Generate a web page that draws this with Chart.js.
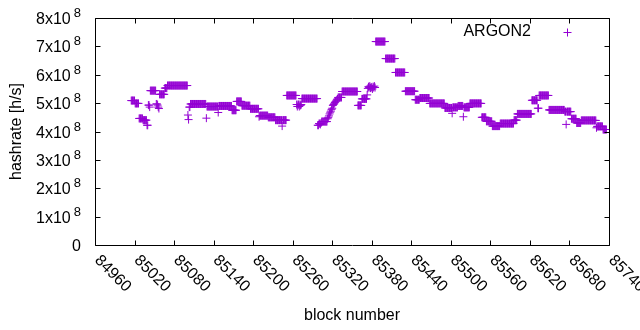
<!DOCTYPE html>
<html>
<head>
<meta charset="utf-8">
<script src="https://cdn.jsdelivr.net/npm/chart.js@4/dist/chart.umd.min.js"></script>
<style>
html,body{margin:0;padding:0;background:#fff;}
canvas{display:block;}
</style>
</head>
<body>
<canvas id="c" width="640" height="330"></canvas>
<script>
// ---- data ----
const seriesLabel = 'ARGON2';
const firstBlock = 85015; // block numbers are consecutive from here
// hashrate per block, in units of 1e6 h/s
const hashrateM = [
509,509,509,509,509,509,
499,499,499,499,499,499,
446,446,446,446,446,446,
440,440,440,440,440,440,
422,422,
493,493,486,
544,544,544,544,544,544,544,544,544,
497,497,493,486,481,
531,531,531,531,531,531,531,531,
553,553,553,553,
562,562,562,562,562,562,562,562,562,562,562,562,562,562,562,562,562,562,562,562,562,562,562,562,562,562,562,562,562,562,562,
458,442,
486,486,
497,497,497,497,497,497,497,497,497,497,497,497,497,497,497,497,497,497,497,497,497,497,497,497,
447,
488,488,488,488,488,488,488,488,488,488,488,488,488,488,488,488,488,
467,
490,490,490,490,490,490,490,490,490,490,490,490,490,490,490,490,490,490,490,490,
475,475,475,475,475,475,475,
506,506,506,506,506,506,506,506,
491,491,491,491,491,491,491,491,491,491,491,491,491,
480,480,480,480,480,480,480,480,480,480,480,480,480,
452,
456,456,456,456,456,456,456,456,456,456,456,456,456,
450,450,450,450,450,450,450,450,450,450,450,
440,440,440,440,440,440,440,440,440,440,419,440,440,440,440,440,440,
527,527,527,527,527,527,527,527,527,527,527,527,527,527,527,
495,488,495,495,488,495,492,495,
516,516,516,516,516,516,516,516,516,516,516,516,516,516,516,516,516,516,516,516,516,516,516,516,
422,422,428,428,425,430,
435,435,435,435,435,435,435,435,435,
445,450,455,462,468,472,478,482,
492,495,498,502,505,508,512,515,
520,520,520,520,520,520,
541,541,541,541,541,541,541,541,541,541,541,541,541,541,541,541,541,541,541,541,541,541,541,541,
492,492,492,492,492,492,
515,515,515,515,515,515,515,515,
529,
552,558,555,560,553,557,555,550,558,555,560,555,
717,717,717,717,717,717,717,717,717,717,717,717,717,717,717,
657,657,657,657,657,657,657,657,657,657,657,657,657,657,657,
608,608,608,608,608,608,608,608,608,608,608,608,608,608,608,
542,542,542,542,542,542,542,542,542,542,542,542,542,542,542,
512,512,512,512,512,512,512,
518,518,518,518,518,518,518,518,518,518,518,518,518,518,518,
499,499,499,499,499,499,499,499,499,499,499,499,499,499,499,499,499,499,499,499,499,499,499,
483,483,483,483,483,483,483,483,483,483,483,
464,
485,485,485,485,485,485,485,485,
490,490,490,490,490,490,490,490,
452,
485,485,485,485,485,485,485,485,485,
499,499,499,499,499,499,499,499,499,499,499,499,499,499,499,499,499,499,
450,450,450,450,450,450,450,
436,436,436,436,436,436,436,436,436,
419,419,419,419,419,419,419,419,419,419,419,419,
428,428,428,428,428,428,428,428,428,428,428,428,428,428,428,428,428,428,428,428,428,
440,440,440,440,440,
462,462,462,462,462,462,462,462,462,462,462,462,462,462,462,462,462,462,462,462,462,462,
510,510,510,510,510,510,510,510,510,
482,482,
527,527,527,527,527,527,527,527,527,527,527,527,527,527,527,
476,476,476,476,476,476,476,476,476,476,476,476,476,476,476,476,476,476,476,476,476,476,476,476,
470,470,
425,
470,470,470,470,470,470,470,
445,445,445,445,445,445,445,445,
430,430,430,430,430,430,430,
439,439,439,439,439,439,439,439,439,439,439,439,439,439,439,439,439,439,439,439,439,439,439,
413,
418,418,418,418,418,418,418,418,418,
407,407,407,407,407,407
];
const xTickLabels = ['84960','85020','85080','85140','85200','85260','85320','85380','85440','85500','85560','85620','85680','85740'];
const yTickBase = ['0','1x10','2x10','3x10','4x10','5x10','6x10','7x10','8x10'];
const yTickExp  = ['', '8','8','8','8','8','8','8','8'];
const yTickValues = [0,1e8,2e8,3e8,4e8,5e8,6e8,7e8,8e8];

const points = hashrateM.map((v, i) => ({x: firstBlock + i, y: v * 1e6}));

const FONT = "'Liberation Sans', Arial, Helvetica, sans-serif";
const PURPLE = '#9400D3';

const framePlugin = {
  id: 'gnuplotFrame',
  afterDraw(chart) {
    const ctx = chart.ctx;
    const xs = chart.scales.x, ys = chart.scales.y;
    const a = chart.chartArea;
    const L = Math.round(a.left) + 0.5, R = Math.round(a.right) + 0.5;
    const T = Math.round(a.top) + 0.5, B = Math.round(a.bottom) + 0.5;
    ctx.save();
    ctx.strokeStyle = '#000';
    ctx.lineWidth = 1;
    ctx.beginPath();
    ctx.rect(L, T, R - L, B - T);
    const tl = 5;
    xTickLabels.forEach(lbl => {
      const px = Math.round(xs.getPixelForValue(Number(lbl))) + 0.5;
      ctx.moveTo(px, B); ctx.lineTo(px, B - tl);
      ctx.moveTo(px, T); ctx.lineTo(px, T + tl);
    });
    yTickValues.forEach(v => {
      const py = Math.round(ys.getPixelForValue(v)) + 0.5;
      ctx.moveTo(L, py); ctx.lineTo(L + tl, py);
      ctx.moveTo(R, py); ctx.lineTo(R - tl, py);
    });
    ctx.stroke();

    // y tick labels with superscript exponent
    ctx.fillStyle = '#000';
    const rightEdge = 81;
    yTickValues.forEach((v, i) => {
      const py = ys.getPixelForValue(v);
      ctx.font = '13px ' + FONT;
      const ew = yTickExp[i] ? ctx.measureText(yTickExp[i]).width : 0;
      if (yTickExp[i]) {
        ctx.textAlign = 'right';
        ctx.textBaseline = 'alphabetic';
        ctx.fillText(yTickExp[i], rightEdge, py - 1);
      }
      ctx.font = '16px ' + FONT;
      ctx.textAlign = 'right';
      ctx.textBaseline = 'alphabetic';
      ctx.fillText(yTickBase[i], rightEdge - (ew ? ew + 3 : 0), py + 6);
    });

    // x tick labels rotated -45 (gnuplot style)
    ctx.font = '16px ' + FONT;
    xTickLabels.forEach(lbl => {
      const px = xs.getPixelForValue(Number(lbl));
      ctx.save();
      ctx.translate(px + 2, a.bottom + 13);
      ctx.rotate(Math.PI / 4);
      ctx.textAlign = 'left';
      ctx.textBaseline = 'middle';
      ctx.fillText(lbl, 0, 0);
      ctx.restore();
    });

    // key
    ctx.font = '16px ' + FONT;
    ctx.textAlign = 'right';
    ctx.textBaseline = 'middle';
    ctx.fillText(chart.data.datasets[0].label, 531, 32);
    ctx.strokeStyle = PURPLE;
    ctx.beginPath();
    ctx.moveTo(563.5, 32.5); ctx.lineTo(571.5, 32.5);
    ctx.moveTo(567.5, 28.5); ctx.lineTo(567.5, 36.5);
    ctx.stroke();
    ctx.restore();
  }
};

new Chart(document.getElementById('c'), {
  type: 'scatter',
  data: {
    datasets: [{
      label: seriesLabel,
      data: points,
      pointStyle: 'cross',
      pointRadius: 4,
      pointHoverRadius: 4,
      borderColor: PURPLE,
      backgroundColor: PURPLE,
      borderWidth: 1,
      showLine: false
    }]
  },
  options: {
    responsive: false,
    animation: false,
    devicePixelRatio: 1,
    layout: { padding: { top: 18, right: 31, bottom: 0, left: 0 } },
    plugins: { legend: { display: false }, tooltip: { enabled: false } },
    events: [],
    scales: {
      x: {
        type: 'linear',
        min: 84960, max: 85740,
        ticks: { stepSize: 60, display: false },
        grid: { display: false },
        border: { display: false },
        title: { display: true, text: 'block number', color: '#000',
                 font: { family: FONT, size: 16 }, padding: { top: 0, bottom: 5 } },
        afterFit(s) { s.height = 85; }
      },
      y: {
        min: 0, max: 8e8,
        ticks: { stepSize: 1e8, display: false },
        grid: { display: false },
        border: { display: false },
        title: { display: true, text: 'hashrate [h/s]', color: '#000',
                 font: { family: FONT, size: 16 }, padding: { top: 7, bottom: 0 } },
        afterFit(s) { s.width = 95; }
      }
    }
  },
  plugins: [framePlugin]
});
</script>
</body>
</html>
